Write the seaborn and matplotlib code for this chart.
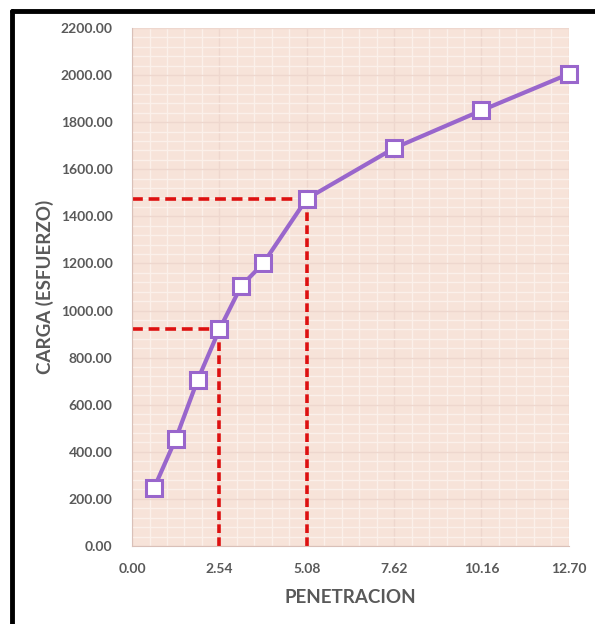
import matplotlib
matplotlib.use("Agg")
import matplotlib.pyplot as plt
import seaborn as sns
import pandas as pd
from matplotlib.lines import Line2D
from matplotlib.ticker import MultipleLocator, FormatStrFormatter

penetracion = [0.635, 1.27, 1.905, 2.54, 3.175, 3.81, 5.08, 7.62, 10.16, 12.70]
carga = [245, 455, 705, 920, 1105, 1200, 1475, 1690, 1850, 2005]
ref_x = [2.54, 5.08]
ref_y = [920, 1475]
x_ticks = [0.00, 2.54, 5.08, 7.62, 10.16, 12.70]
y_ticks = list(range(0, 2201, 200))

df = pd.DataFrame({"PENETRACION": penetracion, "CARGA": carga})

sns.set_style("white")
plt.rcParams['font.family'] = ['Lato', 'DejaVu Sans']

fig = plt.figure(figsize=(5.95, 6.24), dpi=100)
ax = fig.add_axes([0.222, 0.125, 0.734, 0.830])
ax.set_facecolor("#f7e3d9")

# grid
ax.set_xlim(0, 12.70)
ax.set_ylim(0, 2200)
ax.set_xticks(x_ticks)
ax.set_yticks(y_ticks)
ax.xaxis.set_minor_locator(MultipleLocator(2.54 / 5))
ax.yaxis.set_minor_locator(MultipleLocator(40))
ax.grid(which="minor", color="#fbf0ea", linewidth=1.0, zorder=0)
ax.grid(which="major", color="#eed7ce", linewidth=1.0, zorder=0)
ax.set_axisbelow(True)

# reference dashed lines
for rx, ry in zip(ref_x, ref_y):
    ax.plot([0, rx], [ry, ry], color="#dd1111", linestyle=(0, (3, 1.6)), linewidth=2.6, zorder=2)
    ax.plot([rx, rx], [0, ry], color="#dd1111", linestyle=(0, (2.4, 1.2)), linewidth=2.6, zorder=2)

sns.lineplot(data=df, x="PENETRACION", y="CARGA", ax=ax, color="#9966cc",
             linewidth=3, marker="s", markersize=11, markerfacecolor="white",
             markeredgecolor="#9966cc", markeredgewidth=2.2, zorder=3, clip_on=False)

ax.xaxis.set_major_formatter(FormatStrFormatter("%.2f"))
ax.yaxis.set_major_formatter(FormatStrFormatter("%.2f"))
ax.tick_params(axis="both", which="both", length=0, labelsize=10, labelcolor="#595959")
ax.tick_params(axis="x", pad=12)
ax.tick_params(axis="y", pad=14)
for lab in ax.get_xticklabels() + ax.get_yticklabels():
    lab.set_fontweight("bold")

for s in ["top", "right"]:
    ax.spines[s].set_visible(False)
ax.spines["left"].set_color("#d9c0b8")
ax.spines["bottom"].set_color("#d9c0b8")

ax.set_xlabel("PENETRACION", fontsize=13.5, fontweight="bold", color="#595959", labelpad=10)
ax.set_ylabel("CARGA (ESFUERZO)", fontsize=13.5, fontweight="bold", color="#595959", labelpad=5)

# outer frame (top and left)
fig.add_artist(Line2D([0.020, 1.0], [0.983, 0.983], transform=fig.transFigure, color="black", linewidth=3.5))
fig.add_artist(Line2D([0.020, 0.020], [0.0, 0.983], transform=fig.transFigure, color="black", linewidth=3.5))

fig.savefig("out.png", dpi=100)
